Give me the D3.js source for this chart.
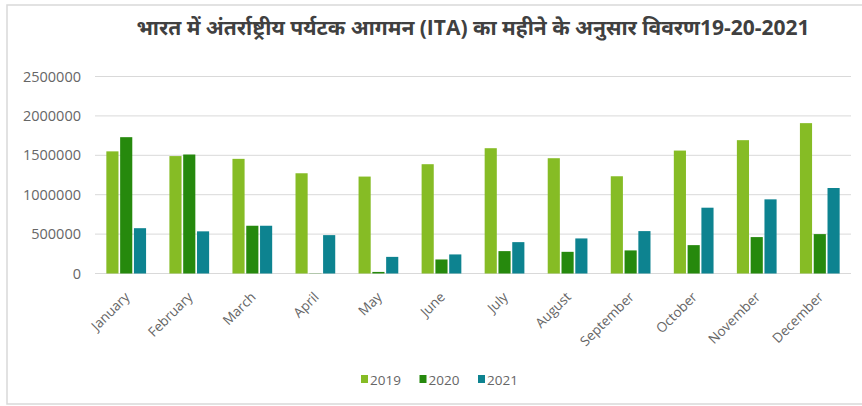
<!DOCTYPE html>
<html>
<head>
<meta charset="utf-8">
<script src="https://cdn.jsdelivr.net/npm/d3@7"></script>
<style>
  body { margin: 0; background: #fff; }
  svg text { font-family: "Open Sans", "Noto Sans", sans-serif; }
</style>
</head>
<body>
<svg id="chart" width="862" height="406"></svg>
<script>
const months = ["January", "February", "March", "April", "May", "June", "July", "August", "September", "October", "November", "December"];
const years = ["2019", "2020", "2021"];
const ita2019 = [1550000, 1490000, 1455000, 1272000, 1230000, 1387000, 1590000, 1463000, 1234000, 1560000, 1692000, 1908000];
const ita2020 = [1730000, 1510000, 606000, 2800, 20000, 178000, 284000, 275000, 293000, 360000, 462000, 500000];
const ita2021 = [575000, 535000, 606000, 487000, 211000, 242000, 398000, 445000, 538000, 835000, 941000, 1085000];
const yTicks = [0, 500000, 1000000, 1500000, 2000000, 2500000];
const titleText = "भारत में अंतर्राष्ट्रीय पर्यटक आगमन (ITA) का महीने के अनुसार विवरण19-20-2021";

const series = [ita2019, ita2020, ita2021];
const colors = d3.scaleOrdinal().domain(years).range(["#86bc25", "#26890d", "#0d8390"]);

const svg = d3.select("#chart");

// outer frame
svg.append("rect")
  .attr("x", 7).attr("y", 5)
  .attr("width", 870).attr("height", 399)
  .attr("fill", "none")
  .attr("stroke", "#d9d9d9")
  .attr("stroke-width", 1.5);

const x = d3.scaleBand().domain(months).range([95, 851]).paddingInner(0.37).paddingOuter(0.18);
const xs = d3.scaleBand().domain(years).range([0, x.bandwidth()]).paddingInner(0.12);
const y = d3.scaleLinear().domain([0, 2500000]).range([273.5, 76.5]);

// gridlines
svg.append("g")
  .selectAll("line")
  .data(yTicks)
  .enter()
  .append("line")
  .attr("x1", 95).attr("x2", 851)
  .attr("y1", d => y(d)).attr("y2", d => y(d))
  .attr("stroke", "#d9d9d9")
  .attr("stroke-width", 1);

// y axis labels
svg.append("g")
  .attr("transform", "translate(81,0)")
  .call(d3.axisLeft(y).tickValues(yTicks).tickSize(0).tickPadding(0).tickFormat(d3.format("d")))
  .call(g => g.select(".domain").remove())
  .selectAll("text")
  .attr("fill", "#666")
  .style("font-size", "14.5px");

// bars
const groups = svg.append("g")
  .selectAll("g")
  .data(months)
  .enter()
  .append("g")
  .attr("transform", d => `translate(${x(d)},0)`);

groups.selectAll("rect")
  .data((m, i) => years.map((yr, j) => ({ year: yr, value: series[j][i] })))
  .enter()
  .append("rect")
  .attr("x", d => xs(d.year))
  .attr("width", xs.bandwidth())
  .attr("y", d => y(d.value))
  .attr("height", d => y(0) - y(d.value))
  .attr("fill", d => colors(d.year));

// x axis labels
svg.append("g")
  .attr("transform", `translate(0,${y(0)})`)
  .call(d3.axisBottom(x).tickSize(0).tickPadding(0))
  .call(g => g.select(".domain").remove())
  .selectAll("text")
  .attr("fill", "#666")
  .style("font-size", "13.5px")
  .attr("text-anchor", "end")
  .attr("transform", "translate(1,21) rotate(-45)")
  .attr("dy", "0.35em");

// title
svg.append("text")
  .attr("x", 473)
  .attr("y", 35)
  .attr("text-anchor", "middle")
  .attr("fill", "#404040")
  .style("font-size", "21px")
  .style("font-weight", "bold")
  .text(titleText);

// legend
const legend = svg.append("g")
  .attr("transform", "translate(361,380)");

const legendItems = legend.selectAll(".legend-item")
  .data(years)
  .enter()
  .append("g")
  .attr("class", "legend-item")
  .attr("transform", (d, i) => `translate(${i * 58.5}, 0)`);

legendItems.append("rect")
  .attr("x", 0)
  .attr("y", -5)
  .attr("width", 7)
  .attr("height", 8)
  .attr("fill", colors);

legendItems.append("text")
  .attr("x", 9)
  .attr("y", 0)
  .attr("dy", "0.35em")
  .attr("fill", "#666")
  .style("font-size", "13.5px")
  .text(d => d);
</script>
</body>
</html>
